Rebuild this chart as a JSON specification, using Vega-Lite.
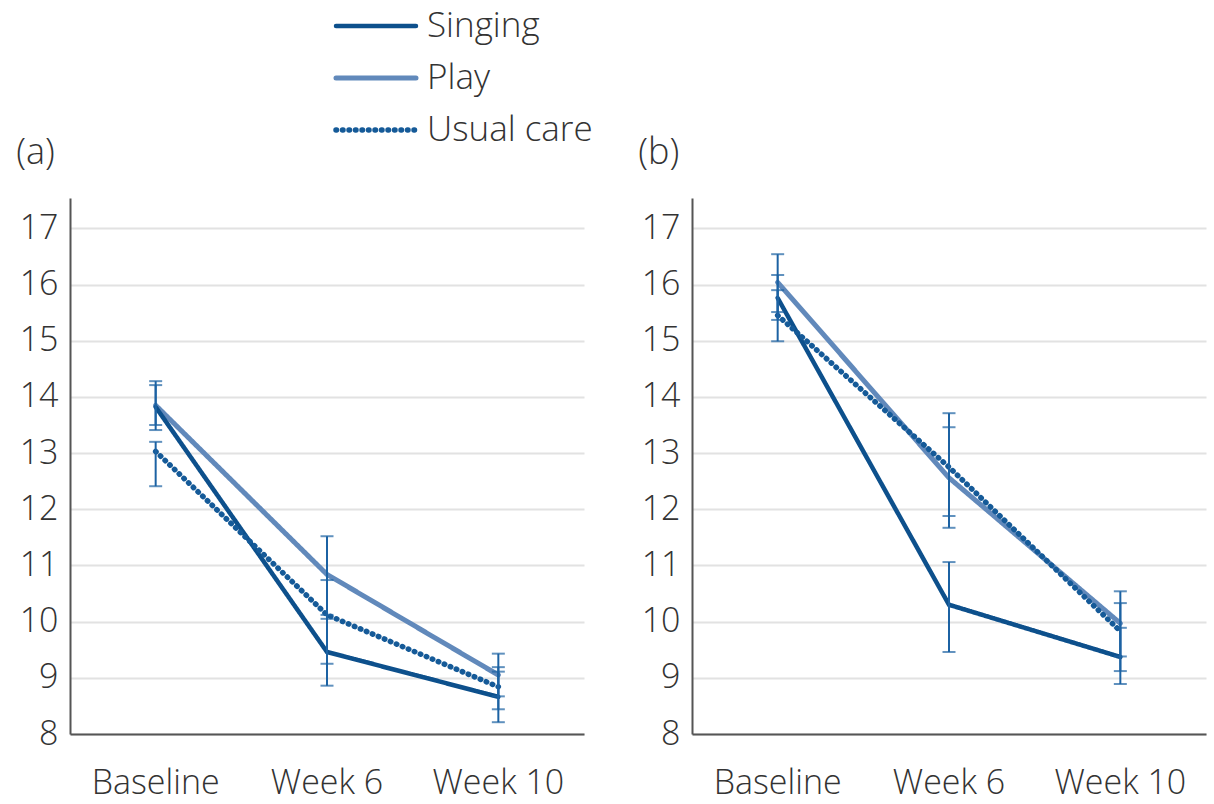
{
  "$schema": "https://vega.github.io/schema/vega-lite/v6.json",
  "padding": {"left": 16, "top": 6, "right": 5, "bottom": 5},
  "background": "white",
  "datasets": {
    "a": [
      {"time": "Baseline", "group": "Play", "mean": 13.85, "lo": 13.50, "hi": 14.28},
      {"time": "Week 6", "group": "Play", "mean": 10.84, "lo": 10.12, "hi": 11.52},
      {"time": "Week 10", "group": "Play", "mean": 9.05, "lo": 8.67, "hi": 9.43},
      {"time": "Baseline", "group": "Singing", "mean": 13.82, "lo": 13.41, "hi": 14.21},
      {"time": "Week 6", "group": "Singing", "mean": 9.46, "lo": 8.86, "hi": 10.05},
      {"time": "Week 10", "group": "Singing", "mean": 8.66, "lo": 8.21, "hi": 9.11},
      {"time": "Baseline", "group": "Usual care", "mean": 13.03, "lo": 12.41, "hi": 13.20},
      {"time": "Week 6", "group": "Usual care", "mean": 10.12, "lo": 9.25, "hi": 10.74},
      {"time": "Week 10", "group": "Usual care", "mean": 8.84, "lo": 8.44, "hi": 9.19}
    ],
    "b": [
      {"time": "Baseline", "group": "Play", "mean": 16.04, "lo": 15.51, "hi": 16.54},
      {"time": "Week 6", "group": "Play", "mean": 12.56, "lo": 11.67, "hi": 13.46},
      {"time": "Week 10", "group": "Play", "mean": 9.97, "lo": 9.38, "hi": 10.54},
      {"time": "Baseline", "group": "Singing", "mean": 15.76, "lo": 15.37, "hi": 16.17},
      {"time": "Week 6", "group": "Singing", "mean": 10.30, "lo": 9.46, "hi": 11.06},
      {"time": "Week 10", "group": "Singing", "mean": 9.37, "lo": 8.89, "hi": 9.89},
      {"time": "Baseline", "group": "Usual care", "mean": 15.45, "lo": 14.99, "hi": 15.90},
      {"time": "Week 6", "group": "Usual care", "mean": 12.75, "lo": 11.88, "hi": 13.71},
      {"time": "Week 10", "group": "Usual care", "mean": 9.83, "lo": 9.12, "hi": 10.33}
    ]
  },
  "config": {
    "font": "Open Sans",
    "view": {"stroke": null},
    "axis": {"labelFont": "Open Sans", "labelFontWeight": 300, "labelColor": "#333333", "labelFontSize": 34, "ticks": false, "title": null, "domainColor": "#555555", "domainWidth": 2},
    "axisX": {"labelAngle": 0, "labelPadding": 32, "grid": false},
    "axisY": {"labelPadding": 12, "gridColor": "#e2e2e2", "gridWidth": 2},
    "title": {"font": "Open Sans", "fontWeight": 300, "fontSize": 36, "color": "#333333", "anchor": "start", "frame": "bounds", "offset": 26},
    "legend": {"orient": "none", "legendX": 263, "legendY": -192, "title": null, "symbolType": "stroke", "symbolSize": 6400, "symbolStrokeWidth": 4.5, "labelFont": "Open Sans", "labelFontWeight": 300, "labelFontSize": 35, "labelColor": "#333333", "labelOffset": 8, "labelLimit": 400, "clipHeight": 40, "rowPadding": 12}
  },
  "resolve": {"scale": {"color": "shared", "strokeDash": "shared", "strokeWidth": "shared"}},
  "spacing": 54,
  "hconcat": [
    {
      "width": 514, "height": 536,
      "title": {"text": "(a)", "dx": -3},
      "data": {"name": "a"},
      "layer": [
        {
          "mark": {"type": "line", "strokeCap": "round"},
          "encoding": {
            "x": {"field": "time", "type": "nominal", "sort": ["Baseline", "Week 6", "Week 10"]},
            "y": {"field": "mean", "type": "quantitative", "scale": {"domain": [8, 17.54], "nice": false, "zero": false}, "axis": {"values": [8, 9, 10, 11, 12, 13, 14, 15, 16, 17], "format": "d"}},
            "color": {"field": "group", "type": "nominal", "sort": ["Singing", "Play", "Usual care"], "scale": {"domain": ["Singing", "Play", "Usual care"], "range": ["#0d508c", "#6189bb", "#155a98"]}, "legend": {"encode": {"symbols": {"update": {"strokeCap": {"value": "round"}}}}}},
            "strokeDash": {"field": "group", "type": "nominal", "sort": ["Singing", "Play", "Usual care"], "scale": {"domain": ["Singing", "Play", "Usual care"], "range": [[1, 0], [1, 0], [0.5, 6]]}},
            "strokeWidth": {"field": "group", "type": "nominal", "sort": ["Singing", "Play", "Usual care"], "scale": {"domain": ["Singing", "Play", "Usual care"], "range": [4.5, 5.5, 4]}}
          }
        },
        {
          "mark": {"type": "rule", "color": "#1c62a3", "strokeWidth": 2},
          "encoding": {
            "x": {"field": "time", "type": "nominal", "sort": ["Baseline", "Week 6", "Week 10"]},
            "y": {"field": "lo", "type": "quantitative"},
            "y2": {"field": "hi"}
          }
        },
        {
          "mark": {"type": "tick", "color": "#1c62a3", "thickness": 2, "size": 13},
          "encoding": {
            "x": {"field": "time", "type": "nominal", "sort": ["Baseline", "Week 6", "Week 10"]},
            "y": {"field": "lo", "type": "quantitative"}
          }
        },
        {
          "mark": {"type": "tick", "color": "#1c62a3", "thickness": 2, "size": 13},
          "encoding": {
            "x": {"field": "time", "type": "nominal", "sort": ["Baseline", "Week 6", "Week 10"]},
            "y": {"field": "hi", "type": "quantitative"}
          }
        }
      ]
    },
    {
      "width": 514, "height": 536,
      "title": {"text": "(b)", "dx": -3},
      "data": {"name": "b"},
      "layer": [
        {
          "mark": {"type": "line", "strokeCap": "round"},
          "encoding": {
            "x": {"field": "time", "type": "nominal", "sort": ["Baseline", "Week 6", "Week 10"]},
            "y": {"field": "mean", "type": "quantitative", "scale": {"domain": [8, 17.54], "nice": false, "zero": false}, "axis": {"values": [8, 9, 10, 11, 12, 13, 14, 15, 16, 17], "format": "d"}},
            "color": {"field": "group", "type": "nominal", "sort": ["Singing", "Play", "Usual care"], "scale": {"domain": ["Singing", "Play", "Usual care"], "range": ["#0d508c", "#6189bb", "#155a98"]}, "legend": {"encode": {"symbols": {"update": {"strokeCap": {"value": "round"}}}}}},
            "strokeDash": {"field": "group", "type": "nominal", "sort": ["Singing", "Play", "Usual care"], "scale": {"domain": ["Singing", "Play", "Usual care"], "range": [[1, 0], [1, 0], [0.5, 6]]}},
            "strokeWidth": {"field": "group", "type": "nominal", "sort": ["Singing", "Play", "Usual care"], "scale": {"domain": ["Singing", "Play", "Usual care"], "range": [4.5, 5.5, 4]}}
          }
        },
        {
          "mark": {"type": "rule", "color": "#1c62a3", "strokeWidth": 2},
          "encoding": {
            "x": {"field": "time", "type": "nominal", "sort": ["Baseline", "Week 6", "Week 10"]},
            "y": {"field": "lo", "type": "quantitative"},
            "y2": {"field": "hi"}
          }
        },
        {
          "mark": {"type": "tick", "color": "#1c62a3", "thickness": 2, "size": 13},
          "encoding": {
            "x": {"field": "time", "type": "nominal", "sort": ["Baseline", "Week 6", "Week 10"]},
            "y": {"field": "lo", "type": "quantitative"}
          }
        },
        {
          "mark": {"type": "tick", "color": "#1c62a3", "thickness": 2, "size": 13},
          "encoding": {
            "x": {"field": "time", "type": "nominal", "sort": ["Baseline", "Week 6", "Week 10"]},
            "y": {"field": "hi", "type": "quantitative"}
          }
        }
      ]
    }
  ]
}
